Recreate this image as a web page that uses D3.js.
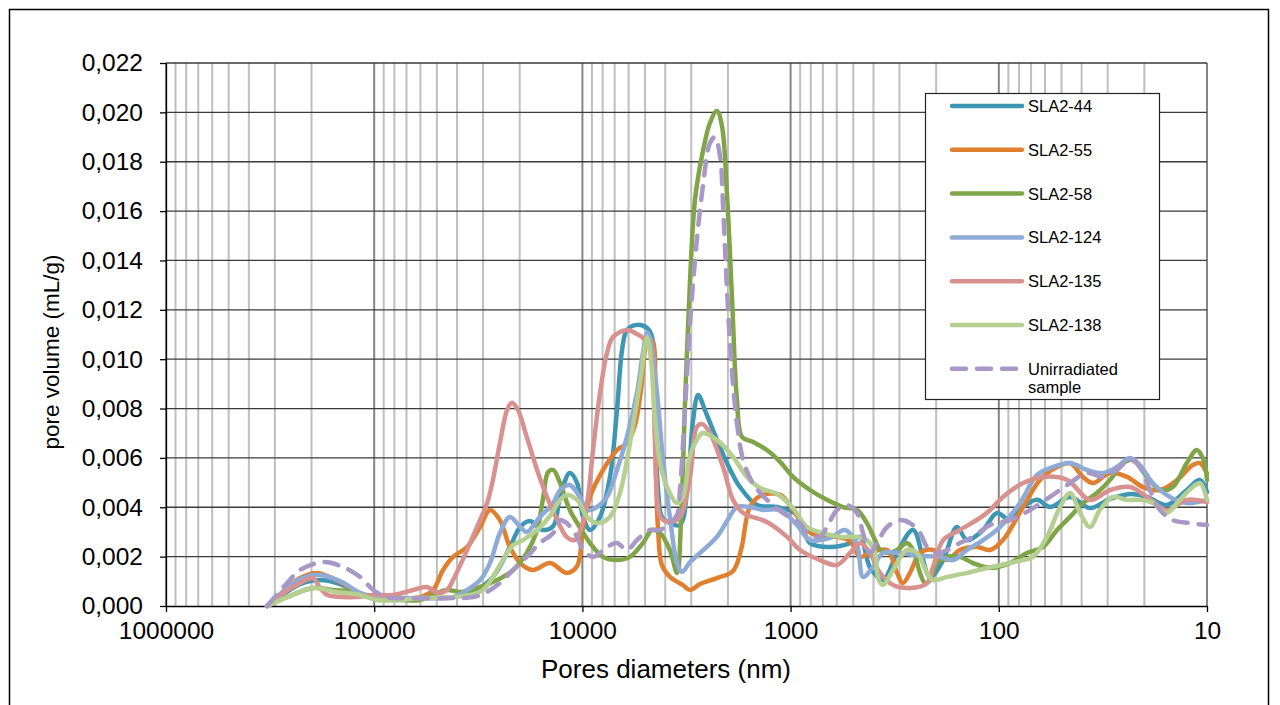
<!DOCTYPE html>
<html>
<head>
<meta charset="utf-8">
<script src="https://cdn.jsdelivr.net/npm/d3@7"></script>
<style>
body { margin: 0; background: #fff; }
text { font-family: "Liberation Sans", Arial, sans-serif; fill: #000; }
</style>
</head>
<body>
<div id="big-chart"></div>
<script>
// axis ticks
var yTicks = [0, 0.002, 0.004, 0.006, 0.008, 0.010, 0.012, 0.014, 0.016, 0.018, 0.020, 0.022];
var xTicks = [1000000, 100000, 10000, 1000, 100, 10];

var seriesNames = ['SLA2-44', 'SLA2-55', 'SLA2-58', 'SLA2-124', 'SLA2-135', 'SLA2-138', 'Unirradiated sample'];
var seriesColors = ['#3d97b4', '#e0802f', '#80a548', '#8eaad6', '#d8918f', '#b5cf91', '#a898c6'];

// [pore diameter (nm), pore volume (mL/g)]
var sla44 = [[327000,0],[268000,0.00053],[227000,0.00089],[182000,0.00105],[146000,0.00089],[117000,0.00049],[99100,0.00032],[75200,0.00028],[60300,0.00032],[41800,0.00036],[33500,0.00057],[26900,0.00118],[22300,0.00239],[19900,0.0032],[17900,0.00344],[15500,0.00308],[13800,0.00324],[12800,0.00442],[11500,0.00539],[10600,0.00498],[9930,0.00361],[9190,0.00308],[8230,0.00361],[7370,0.00523],[6820,0.00794],[6450,0.01037],[6110,0.01118],[5470,0.01139],[4890,0.01126],[4630,0.0109],[4480,0.00754],[4330,0.0047],[4150,0.00361],[3800,0.00336],[3400,0.00328],[3110,0.00511],[2940,0.00754],[2780,0.00855],[2580,0.00794],[2360,0.00713],[2020,0.00579],[1750,0.00482],[1450,0.00409],[1160,0.00401],[932,0.00369],[807,0.00255],[647,0.00239],[518,0.00255],[464,0.0028],[416,0.00158],[360,0.00105],[308,0.00215],[258,0.00308],[214,0.00118],[185,0.00186],[159,0.0032],[142,0.00267],[119,0.00308],[102,0.00377],[88.4,0.00348],[76.5,0.00401],[65.5,0.0043],[56.8,0.00401],[45.5,0.00442],[36.5,0.00397],[29.2,0.00434],[23.4,0.00454],[19.4,0.00442],[15.6,0.00409],[12.5,0.0047],[10.8,0.00511],[10,0.00462]];

var sla55 = [[327000,0],[268000,0.00065],[227000,0.00113],[188000,0.00134],[146000,0.00097],[117000,0.00049],[99100,0.00036],[75200,0.00032],[60300,0.00036],[52200,0.00065],[46700,0.00146],[41800,0.00199],[35800,0.00239],[31000,0.0032],[27800,0.00389],[24900,0.00348],[22300,0.00239],[19900,0.00174],[17300,0.00146],[14300,0.00174],[11900,0.00134],[10600,0.00162],[9930,0.0032],[9190,0.00442],[7960,0.00551],[6820,0.00632],[6110,0.0066],[5590,0.00733],[5230,0.00875],[4890,0.01066],[4630,0.01078],[4480,0.00713],[4330,0.00308],[4150,0.00166],[3800,0.00118],[3290,0.00085],[3040,0.00065],[2720,0.00089],[2260,0.00113],[1890,0.00142],[1730,0.00227],[1570,0.00401],[1400,0.00446],[1120,0.0045],[974,0.00389],[834,0.00308],[722,0.0028],[599,0.0028],[518,0.00263],[464,0.00199],[416,0.00215],[344,0.00227],[308,0.00134],[289,0.00093],[267,0.00134],[239,0.00215],[207,0.00227],[177,0.00186],[154,0.00227],[127,0.00239],[110,0.00227],[95.5,0.00267],[76.5,0.00401],[63.4,0.00511],[52.5,0.00563],[45.5,0.00579],[39.4,0.00523],[35.3,0.00498],[29.2,0.00539],[24.2,0.00523],[20.3,0.00482],[16.8,0.0047],[13.9,0.00511],[11.7,0.00571],[10.8,0.00579],[10,0.00535]];

var sla58 = [[327000,0],[262000,0.00036],[197000,0.00073],[158000,0.00065],[126000,0.00057],[99100,0.00032],[75200,0.00024],[60300,0.00024],[52200,0.00045],[44700,0.00065],[38700,0.00057],[31000,0.00077],[25700,0.00105],[21500,0.00146],[18500,0.00215],[16500,0.00308],[15500,0.0043],[14600,0.00543],[13800,0.00551],[12800,0.00498],[11500,0.00389],[10300,0.0032],[9190,0.00255],[7960,0.00199],[6820,0.00186],[5910,0.00199],[5120,0.00255],[4630,0.00308],[4240,0.00296],[3800,0.00227],[3510,0.00134],[3360,0.00348],[3210,0.00835],[3040,0.01321],[2880,0.01645],[2660,0.01827],[2440,0.01957],[2260,0.02006],[2140,0.01949],[2020,0.01665],[1910,0.0124],[1810,0.00835],[1710,0.00685],[1520,0.00665],[1300,0.00632],[1120,0.00583],[974,0.00523],[807,0.0047],[669,0.0043],[560,0.00401],[480,0.00389],[430,0.00336],[393,0.00267],[372,0.00227],[344,0.00215],[308,0.00227],[276,0.00255],[258,0.00227],[239,0.00134],[226,0.00093],[214,0.00105],[198,0.00174],[177,0.00199],[154,0.00199],[133,0.00174],[110,0.00154],[88.4,0.00174],[73.2,0.00215],[61.3,0.00239],[52.5,0.00308],[45.5,0.00361],[39.4,0.00417],[33.8,0.00458],[29.2,0.00511],[25.3,0.00579],[22.7,0.00592],[19.4,0.00523],[16.8,0.0047],[14.6,0.00482],[12.5,0.00579],[11.2,0.00632],[10.4,0.00592],[10,0.00511]];

var sla124 = [[327000,0],[268000,0.00065],[227000,0.00109],[182000,0.00126],[146000,0.00101],[117000,0.00053],[99100,0.00036],[81200,0.00032],[60300,0.00032],[41800,0.00036],[35800,0.00065],[31000,0.00105],[27800,0.00174],[24900,0.00296],[22300,0.00361],[19900,0.0032],[18500,0.003],[16000,0.00361],[13800,0.00417],[12800,0.0047],[11500,0.0049],[10300,0.00442],[9500,0.00389],[8510,0.00401],[7620,0.00442],[6820,0.00551],[6110,0.00685],[5470,0.00863],[5120,0.01025],[4890,0.01106],[4740,0.0109],[4380,0.00863],[4100,0.00592],[3800,0.00361],[3510,0.00174],[3320,0.00138],[3040,0.00178],[2720,0.00215],[2260,0.0028],[2020,0.00344],[1810,0.00401],[1570,0.00401],[1360,0.00389],[1120,0.00389],[932,0.00328],[807,0.00267],[647,0.00276],[548,0.00308],[480,0.00247],[449,0.00118],[402,0.00158],[360,0.00215],[298,0.00215],[239,0.00203],[192,0.00199],[166,0.00186],[142,0.00227],[119,0.00267],[98.7,0.0032],[79.1,0.00417],[65.5,0.00531],[54.9,0.00563],[45.5,0.00579],[37.7,0.00551],[31.6,0.00539],[27.1,0.00563],[23.4,0.006],[21.0,0.00571],[18.2,0.00498],[15.1,0.00442],[12.5,0.00417],[10,0.0043]];

var sla135 = [[327000,0],[268000,0.00057],[227000,0.00093],[197000,0.00113],[182000,0.00073],[168000,0.00045],[126000,0.00036],[101000,0.00045],[81200,0.00045],[65100,0.00065],[55800,0.00077],[49900,0.00053],[44700,0.00065],[41800,0.00105],[35800,0.00227],[32100,0.0032],[28700,0.00417],[26900,0.00511],[24900,0.0066],[23000,0.00794],[21800,0.00823],[20400,0.00794],[18500,0.00685],[16500,0.00551],[14800,0.00442],[13200,0.00348],[11900,0.0028],[10900,0.00267],[10300,0.003],[9500,0.00417],[8890,0.00632],[8230,0.00863],[7620,0.01025],[7130,0.0109],[6110,0.01118],[5470,0.01102],[5120,0.01086],[4740,0.01049],[4580,0.00928],[4480,0.0066],[4380,0.00442],[4190,0.00357],[3800,0.0034],[3400,0.00361],[3040,0.00523],[2820,0.00725],[2660,0.00737],[2440,0.00701],[2110,0.00563],[1890,0.0043],[1690,0.00377],[1300,0.0034],[1040,0.0028],[901,0.00227],[722,0.00186],[599,0.00166],[518,0.00215],[464,0.00255],[416,0.00215],[372,0.00134],[322,0.00085],[267,0.00073],[221,0.00093],[207,0.00158],[185,0.00267],[154,0.00308],[123,0.00357],[110,0.00389],[95.5,0.00442],[76.5,0.00498],[61.3,0.00523],[47.0,0.00511],[36.5,0.0043],[29.2,0.0047],[23.4,0.00482],[19.4,0.00442],[15.6,0.00389],[12.5,0.0043],[10,0.00421]];

var sla138 = [[327000,0],[262000,0.00036],[197000,0.00073],[151000,0.00057],[117000,0.00045],[97000,0.00024],[75200,0.00024],[60300,0.00032],[41800,0.00036],[34700,0.00045],[30000,0.00065],[26900,0.00118],[24100,0.00186],[21500,0.00247],[19300,0.00267],[16500,0.00308],[14300,0.00365],[12800,0.0043],[11900,0.0045],[10600,0.0043],[9500,0.00361],[8510,0.00336],[7370,0.00361],[6600,0.00458],[5910,0.0066],[5290,0.00904],[4890,0.0109],[4680,0.00997],[4480,0.00754],[4240,0.00579],[3920,0.00482],[3510,0.00417],[3290,0.00442],[3040,0.00612],[2820,0.00673],[2640,0.00701],[2260,0.00673],[1890,0.00604],[1620,0.00523],[1400,0.00478],[1160,0.00454],[974,0.00397],[834,0.0032],[699,0.00296],[579,0.0028],[480,0.0028],[430,0.00267],[393,0.00215],[380,0.00113],[360,0.00085],[322,0.00146],[276,0.00227],[247,0.00215],[221,0.00134],[207,0.00105],[177,0.00118],[142,0.00134],[114,0.00154],[88.4,0.00174],[76.5,0.00186],[68.5,0.00199],[58.7,0.0028],[50.8,0.00401],[45.5,0.00458],[40.7,0.00377],[36.5,0.0032],[32.7,0.00389],[28.3,0.00442],[24.2,0.0043],[21.0,0.0043],[18.2,0.00417],[15.6,0.00377],[13.5,0.0043],[11.7,0.00482],[10.8,0.00498],[10,0.0043]];

var unirradiated = [[327000,0],[262000,0.00093],[227000,0.00146],[176000,0.00178],[141000,0.00158],[117000,0.00118],[101000,0.00065],[86800,0.00036],[69600,0.00032],[52200,0.00032],[41800,0.00032],[33500,0.00036],[28700,0.00057],[24900,0.00093],[21500,0.00146],[18500,0.00199],[16000,0.00255],[13800,0.00296],[12800,0.00348],[11900,0.00336],[10600,0.0028],[9930,0.00227],[8890,0.00199],[7620,0.00239],[6820,0.00255],[6110,0.00227],[5470,0.00267],[4740,0.00308],[4240,0.00308],[3800,0.00336],[3510,0.00369],[3400,0.0047],[3210,0.00806],[3040,0.01147],[2820,0.01483],[2640,0.01698],[2440,0.01876],[2310,0.019],[2180,0.01819],[2110,0.01617],[2020,0.0128],[1910,0.00944],[1810,0.00741],[1690,0.00592],[1520,0.00498],[1300,0.0043],[1090,0.00377],[901,0.00336],[834,0.00296],[722,0.0028],[669,0.0032],[599,0.00389],[536,0.00409],[480,0.00377],[449,0.00296],[416,0.00215],[385,0.00255],[344,0.0032],[298,0.00348],[267,0.00336],[239,0.00296],[221,0.00239],[198,0.00215],[177,0.00227],[154,0.00255],[133,0.0028],[110,0.00328],[88.4,0.00348],[70.8,0.00389],[56.8,0.00442],[45.5,0.00498],[37.7,0.00539],[31.6,0.00523],[27.1,0.00551],[23.4,0.00592],[21.0,0.00563],[18.8,0.0047],[16.8,0.00389],[14.6,0.00348],[12.1,0.00336],[10,0.00328]];

var seriesData = [sla44, sla55, sla58, sla124, sla135, sla138, unirradiated];

var width = 1280;
var height = 705;
var plotLeft = 166, plotRight = 1207, plotTop = 63, plotBottom = 606;

var comma = d3.formatLocale({decimal: ',', thousands: '.', grouping: [3], currency: ['', '']});

var svg = d3.select('#big-chart').append('svg')
    .attr('width', width)
    .attr('height', height);

svg.append('rect')
    .attr('x', 9.5).attr('y', 9.5)
    .attr('width', 1259).attr('height', 720)
    .style('fill', '#fff')
    .style('stroke', '#000')
    .style('stroke-width', '1.5px');

var x = d3.scaleLog().domain([1000000, 10]).range([plotLeft, plotRight]);
var y = d3.scaleLinear().domain([0, 0.022]).range([plotBottom, plotTop]);

// minor vertical grid, 2..9 per decade
var minor = [];
xTicks.slice(1).forEach(function (base) {
    for (var m = 2; m <= 9; m++) minor.push(base * m);
});

svg.append('g').selectAll('line').data(minor).enter().append('line')
    .attr('x1', function (d) { return x(d); })
    .attr('x2', function (d) { return x(d); })
    .attr('y1', plotTop).attr('y2', plotBottom)
    .style('stroke', '#bfbfbf')
    .style('stroke-width', '2px');

svg.append('g').selectAll('line').data(xTicks).enter().append('line')
    .attr('x1', function (d) { return x(d); })
    .attr('x2', function (d) { return x(d); })
    .attr('y1', plotTop).attr('y2', plotBottom)
    .style('stroke', '#858585')
    .style('stroke-width', '2px');

svg.append('g').selectAll('line').data(yTicks.slice(1)).enter().append('line')
    .attr('x1', plotLeft).attr('x2', plotRight)
    .attr('y1', function (d) { return y(d); })
    .attr('y2', function (d) { return y(d); })
    .style('stroke', '#3a3a3a')
    .style('stroke-width', '1.3px');

// axes
var yAxis = svg.append('g')
    .attr('transform', 'translate(' + plotLeft + ',0)')
    .call(d3.axisLeft(y).tickValues(yTicks).tickSize(6).tickPadding(17).tickSizeOuter(0)
        .tickFormat(comma.format('.3f')));

var xAxis = svg.append('g')
    .attr('transform', 'translate(0,' + plotBottom + ')')
    .call(d3.axisBottom(x).tickValues(xTicks).tickSize(6).tickPadding(10).tickSizeOuter(0)
        .tickFormat(d3.format('d')));

[yAxis, xAxis].forEach(function (g) {
    g.selectAll('path, line').style('stroke', '#000').style('stroke-width', '1.3px');
    g.selectAll('text').style('font-size', '24.5px').style('font-family', '"Liberation Sans", Arial, sans-serif');
});

svg.append('text')
    .attr('transform', 'translate(59,352) rotate(-90)')
    .attr('text-anchor', 'middle')
    .style('font-size', '22.5px')
    .text('pore volume (mL/g)');

svg.append('text')
    .attr('x', 666)
    .attr('y', 678)
    .attr('text-anchor', 'middle')
    .style('font-size', '26px')
    .text('Pores diameters (nm)');

// series
var line = d3.line()
    .x(function (d) { return x(d[0]); })
    .y(function (d) { return y(d[1]); })
    .curve(d3.curveCatmullRom.alpha(0.5));

seriesData.forEach(function (data, i) {
    svg.append('path')
        .datum(data)
        .attr('d', line)
        .style('fill', 'none')
        .style('stroke', seriesColors[i])
        .style('stroke-width', '4.5px')
        .style('stroke-linejoin', 'round')
        .style('stroke-linecap', 'round')
        .style('stroke-dasharray', i == 6 ? '14,11' : null);
});

// legend
var legend = svg.append('g').attr('transform', 'translate(925,93)');
legend.append('rect')
    .attr('x', 0.5).attr('y', 0.5)
    .attr('width', 234).attr('height', 306)
    .style('fill', '#fff')
    .style('stroke', '#222')
    .style('stroke-width', '1.2px');

seriesNames.forEach(function (name, i) {
    var ly = 13 + i * 43.8;
    legend.append('line')
        .attr('x1', 27).attr('x2', 97)
        .attr('y1', ly).attr('y2', ly)
        .style('stroke', seriesColors[i])
        .style('stroke-width', '4.5px')
        .style('stroke-linecap', 'round')
        .style('stroke-dasharray', i == 6 ? '14,11' : null);
    var t = legend.append('text')
        .attr('x', 103)
        .attr('y', ly + 6)
        .style('font-size', '16.5px');
    if (i == 6) {
        t.text('Unirradiated');
        legend.append('text').attr('x', 103).attr('y', ly + 24).style('font-size', '16.5px').text('sample');
    } else {
        t.text(name);
    }
});
</script>
</body>
</html>
